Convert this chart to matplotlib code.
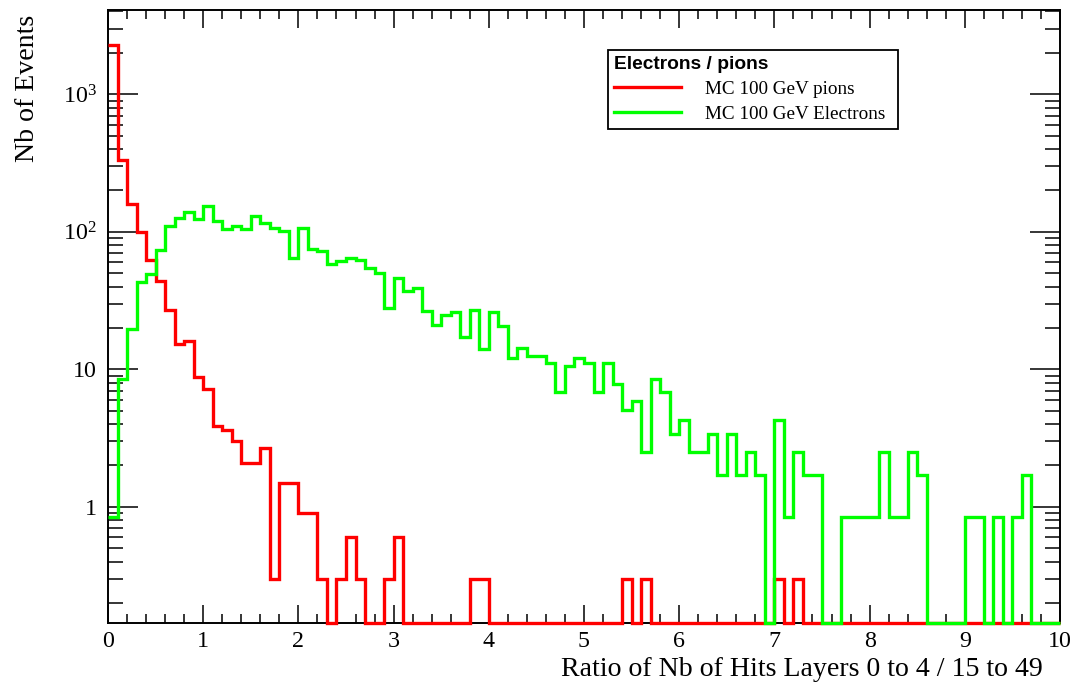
import numpy as np
import matplotlib
matplotlib.use("Agg")
import matplotlib.pyplot as plt
from matplotlib.ticker import FixedLocator, FixedFormatter, MultipleLocator, NullFormatter

# 100 bins of width 0.1 between 0 and 10
bin_edges = np.linspace(0.0, 10.0, 101)

pions_100gev = [
    2300, 330, 158, 100, 62, 44, 27, 15.3, 16.2, 8.8,
    7.2, 3.9, 3.6, 3.0, 2.1, 2.1, 2.7, 0.3, 1.5, 1.5,
    0.9, 0.9, 0.3, 0, 0.3, 0.6, 0.3, 0, 0, 0.3,
    0.6, 0, 0, 0, 0, 0, 0, 0, 0.3, 0.3,
    0, 0, 0, 0, 0, 0, 0, 0, 0, 0,
    0, 0, 0, 0, 0.3, 0, 0.3, 0, 0, 0,
    0, 0, 0, 0, 0, 0, 0, 0, 0, 0,
    0.3, 0, 0.3, 0, 0, 0, 0, 0, 0, 0,
    0, 0, 0, 0, 0, 0, 0, 0, 0, 0,
    0, 0, 0, 0, 0, 0, 0, 0, 0, 0,
]

electrons_100gev = [
    0.85, 8.5, 19.5, 43, 49, 74, 110, 125, 140, 123,
    153, 120, 105, 110, 105, 130, 116, 106, 101, 65,
    107, 75, 72, 58, 61, 65, 62, 55, 50, 28,
    46, 37, 39, 26.5, 21, 25, 26, 17.3, 27, 14,
    26, 20.5, 12, 14.3, 12.6, 12.6, 11.1, 6.8, 10.5, 12.1,
    11.1, 6.8, 11.1, 7.8, 5.1, 5.9, 2.5, 8.5, 6.8, 3.4,
    4.25, 2.5, 2.5, 3.4, 1.7, 3.4, 1.7, 2.5, 1.7, 0,
    4.25, 0.85, 2.5, 1.7, 1.7, 0, 0, 0.85, 0.85, 0.85,
    0.85, 2.5, 0.85, 0.85, 2.5, 1.7, 0, 0, 0, 0,
    0.85, 0.85, 0, 0.85, 0, 0.85, 1.7, 0, 0, 0,
]

series_labels = ["MC 100 GeV pions", "MC 100 GeV Electrons"]
legend_header = "Electrons / pions"

y_major = [1, 10, 100, 1000]
y_major_labels = ["1", "10", r"$10^{2}$", r"$10^{3}$"]

Y_MIN, Y_MAX = 0.143, 4100

plt.rcParams["font.family"] = ["Liberation Serif", "DejaVu Serif"]
plt.rcParams["mathtext.fontset"] = "custom"
plt.rcParams["mathtext.rm"] = "Liberation Serif"
plt.rcParams["mathtext.it"] = "Liberation Serif:italic"

W, H = 1076, 687
fig = plt.figure(figsize=(W / 100, H / 100), dpi=100)
ax = fig.add_axes([108 / W, 1 - 623 / H, (1060 - 108) / W, (623 - 10) / H])
ax.set_yscale("log")

# empty bins sit on the lower edge of the log axis, as ROOT draws them
def floored(vals):
    v = np.asarray(vals, dtype=float)
    return np.where(v > 0, v, Y_MIN)

h_pi = ax.stairs(floored(pions_100gev), bin_edges, baseline=None,
                 color="#ff0000", linewidth=2.4, clip_on=False, zorder=5)
h_el = ax.stairs(floored(electrons_100gev), bin_edges, baseline=None,
                 color="#00ff00", linewidth=2.4, clip_on=False, zorder=6)

ax.set_xlim(0, 10)
ax.set_ylim(Y_MIN, Y_MAX)

ax.xaxis.set_major_locator(MultipleLocator(1))
ax.xaxis.set_minor_locator(MultipleLocator(0.2))
ax.yaxis.set_major_locator(FixedLocator(y_major))
ax.yaxis.set_major_formatter(FixedFormatter(y_major_labels))
minors = [m * d for d in (0.1, 1, 10, 100, 1000) for m in range(2, 10)]
ax.yaxis.set_minor_locator(FixedLocator(minors))
ax.yaxis.set_minor_formatter(NullFormatter())

for s in ax.spines.values():
    s.set_linewidth(1.4)

ax.tick_params(axis="both", which="both", direction="in", top=True, right=True,
               width=1.1, colors="black")
ax.tick_params(axis="x", which="major", length=13, pad=6, labelsize=17.3)
ax.tick_params(axis="x", which="minor", length=6.5)
ax.tick_params(axis="y", which="major", length=21.5, pad=8, labelsize=17.3)
ax.tick_params(axis="y", which="minor", length=11)

ax.set_xlabel("Ratio of Nb of Hits Layers 0 to 4 / 15 to 49", fontsize=20.1, loc="right")
ax.xaxis.set_label_coords((1043 - 108) / 952, -0.055)
ax.set_ylabel("Nb of Events", fontsize=20.1, loc="top")
ax.yaxis.set_label_coords(-0.071, 0.992)

leg = ax.legend([h_pi, h_el], series_labels, title=legend_header,
                loc="upper left", bbox_to_anchor=(608 / W, 1 - 50 / H, 290 / W, 0),
                bbox_transform=fig.transFigure, mode="expand", borderaxespad=0,
                fancybox=False, framealpha=1, edgecolor="black",
                prop={"family": "Liberation Serif", "size": 13.8},
                title_fontproperties={"family": "Liberation Sans", "weight": "bold", "size": 13.8},
                alignment="left", handlelength=3.5, handletextpad=1.25,
                labelspacing=0.4, borderpad=0.3)
leg.get_frame().set_linewidth(1.3)
leg.set_zorder(10)

fig.savefig("out.png", dpi=100, facecolor="white")
